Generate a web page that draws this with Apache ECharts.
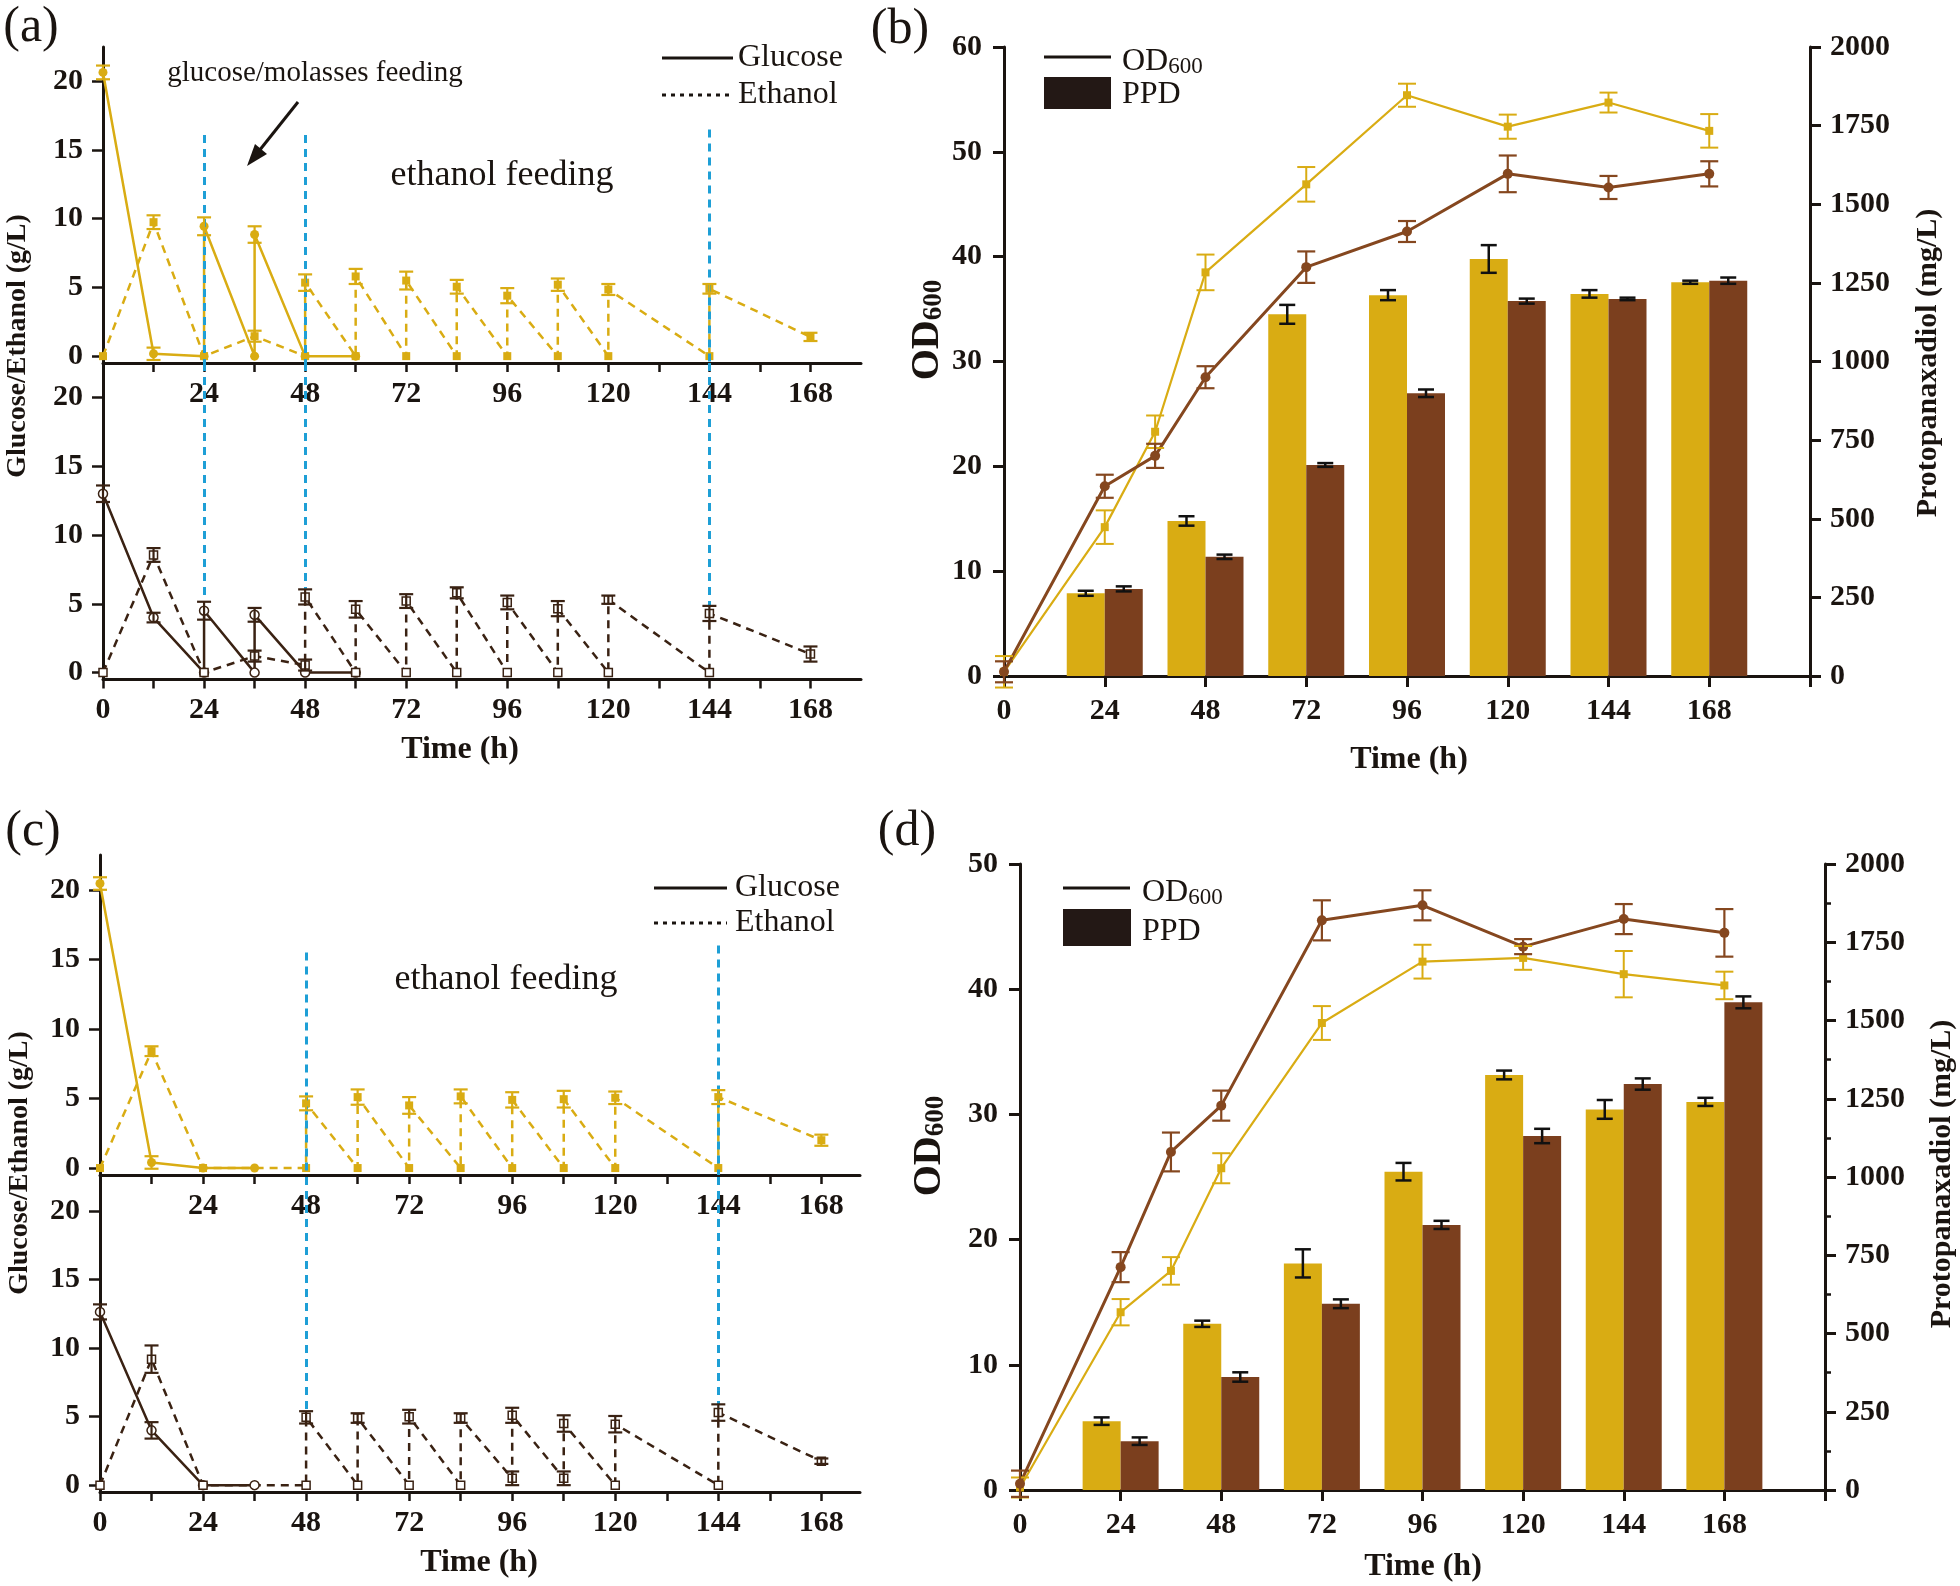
<!DOCTYPE html>
<html>
<head>
<meta charset="utf-8">
<script src="https://cdn.jsdelivr.net/npm/echarts@6.0.0/dist/echarts.min.js"></script>
<style>
  html, body { margin: 0; padding: 0; background: #fff; }
  #chart { width: 1960px; height: 1586px; }
</style>
</head>
<body>
<div id="chart"></div>
<script>
// ---------- data ----------
// panels (a) and (c): time in h, concentration in g/L, errors as [t, mean, sd]
const hourTicks = [0, 12, 24, 36, 48, 60, 72, 84, 96, 108, 120, 132, 144, 156, 168]
const hourLabelsUpper = [24, 48, 72, 96, 120, 144, 168]
const hourLabelsLower = [0, 24, 48, 72, 96, 120, 144, 168]
const concTicks = [0, 5, 10, 15, 20]

const aGlucoseUp = [[0, 20.65], [12, 0.17], [24, 0], [24, 9.45], [36, 0], [36, 8.85], [48, 0], [60, 0]]
const aGlucoseUpErr = [[0, 20.65, 0.5], [12, 0.17, 0.45], [24, 9.45, 0.65], [36, 8.85, 0.6]]
const aEthanolUp = [[0, 0], [12, 9.75], [24, 0], [36, 1.45], [48, 0], [48, 5.35], [60, 0], [60, 5.8], [72, 0], [72, 5.5],
  [84, 0], [84, 5.05], [96, 0], [96, 4.4], [108, 0], [108, 5.2], [120, 0], [120, 4.85], [144, 0], [144, 4.9], [168, 1.4]]
const aEthanolUpErr = [[12, 9.75, 0.5], [36, 1.45, 0.4], [48, 5.35, 0.6], [60, 5.8, 0.55], [72, 5.5, 0.65], [84, 5.05, 0.5],
  [96, 4.4, 0.55], [108, 5.2, 0.45], [120, 4.85, 0.4], [144, 4.9, 0.35], [168, 1.4, 0.3]]

const aGlucoseLow = [[0, 13.0], [12, 4.0], [24, 0], [24, 4.5], [36, 0], [36, 4.2], [48, 0], [60, 0]]
const aGlucoseLowErr = [[0, 13.0, 0.6], [12, 4.0, 0.35], [24, 4.5, 0.65], [36, 4.2, 0.5]]
const aEthanolLow = [[0, 0], [12, 8.55], [24, 0], [36, 1.2], [48, 0.55], [48, 5.5], [60, 0], [60, 4.6], [72, 0], [72, 5.2],
  [84, 0], [84, 5.8], [96, 0], [96, 5.1], [108, 0], [108, 4.65], [120, 0], [120, 5.3], [144, 0], [144, 4.3], [168, 1.35]]
const aEthanolLowErr = [[12, 8.55, 0.5], [36, 1.2, 0.4], [48, 0.55, 0.4], [48, 5.5, 0.55], [60, 4.6, 0.6], [72, 5.2, 0.5],
  [84, 5.8, 0.4], [96, 5.1, 0.5], [108, 4.65, 0.55], [120, 5.3, 0.3], [144, 4.3, 0.55], [168, 1.35, 0.55]]

const cGlucoseUp = [[0, 20.45], [12, 0.4], [24, 0], [36, 0]]
const cGlucoseUpErr = [[0, 20.45, 0.45], [12, 0.4, 0.45]]
const cEthanolUp = [[0, 0], [12, 8.4], [24, 0], [48, 0], [48, 4.65], [60, 0], [60, 5.1], [72, 0], [72, 4.5], [84, 0], [84, 5.15],
  [96, 0], [96, 4.9], [108, 0], [108, 4.95], [120, 0], [120, 5.05], [144, 0], [144, 5.1], [168, 2.0]]
const cEthanolUpErr = [[12, 8.4, 0.35], [48, 4.65, 0.5], [60, 5.1, 0.55], [72, 4.5, 0.6], [84, 5.15, 0.5], [96, 4.9, 0.55],
  [108, 4.95, 0.6], [120, 5.05, 0.45], [144, 5.1, 0.5], [168, 2.0, 0.4]]

const cGlucoseLow = [[0, 12.65], [12, 4.0], [24, 0], [36, 0]]
const cGlucoseLowErr = [[0, 12.65, 0.55], [12, 4.0, 0.6]]
const cEthanolLow = [[0, 0], [12, 9.2], [24, 0], [48, 0], [48, 4.95], [60, 0], [60, 4.9], [72, 0], [72, 5.0], [84, 0], [84, 4.9],
  [96, 0.5], [96, 5.1], [108, 0.5], [108, 4.5], [120, 0], [120, 4.45], [144, 0], [144, 5.3], [168, 1.75]]
const cEthanolLowErr = [[12, 9.2, 1.0], [48, 4.95, 0.45], [60, 4.9, 0.35], [72, 5.0, 0.5], [84, 4.9, 0.35], [96, 0.5, 0.5],
  [96, 5.1, 0.55], [108, 0.5, 0.5], [108, 4.5, 0.6], [120, 4.45, 0.6], [144, 5.3, 0.6], [168, 1.75, 0.2]]

// feeding marks (blue dashed): time, where it starts in upper plot, where it ends in lower plot
const aFeedTimes = [24, 48, 144]
const aFeedUpper = [16.1, 16.1, 16.5]
const aFeedLower = [5.2, 6.1, 4.9]
const cFeedTimes = [48, 144]
const cFeedUpper = [15.5, 16.0]
const cFeedLower = [5.5, 5.9]

// panels (b) and (d)
const odTimes = [0, 24, 36, 48, 72, 96, 120, 144, 168]
const bOdYellow = [0.4, 14.2, 23.3, 38.5, 46.9, 55.4, 52.4, 54.7, 52.0]
const bOdYellowErr = [1.5, 1.6, 1.55, 1.7, 1.65, 1.1, 1.15, 0.95, 1.6]
const bOdBrown = [0.4, 18.1, 21.0, 28.5, 39.0, 42.4, 47.9, 46.6, 47.9]
const bOdBrownErr = [1.0, 1.1, 1.15, 1.05, 1.5, 1.0, 1.75, 1.1, 1.2]
const dOdYellow = [0.2, 14.2, 17.5, 25.7, 37.3, 42.2, 42.5, 41.2, 40.3]
const dOdYellowErr = [0.8, 1.05, 1.1, 1.2, 1.35, 1.35, 0.95, 1.85, 1.1]
const dOdBrown = [0.5, 17.8, 27.0, 30.7, 45.5, 46.7, 43.4, 45.6, 44.5]
const dOdBrownErr = [1.05, 1.2, 1.55, 1.2, 1.6, 1.2, 0.6, 1.2, 1.9]

const ppdTimes = [24, 48, 72, 96, 120, 144, 168]
const bPpdYellow = [263, 493, 1150, 1211, 1326, 1215, 1252]
const bPpdYellowErr = [8, 15, 30, 16, 44, 12, 5]
const bPpdBrown = [277, 379, 671, 899, 1192, 1199, 1257]
const bPpdBrownErr = [8, 7, 6, 12, 8, 4, 10]
const dPpdYellow = [220, 531, 724, 1017, 1326, 1216, 1240]
const dPpdYellowErr = [12, 10, 45, 28, 14, 30, 13]
const dPpdBrown = [156, 361, 595, 847, 1131, 1297, 1558]
const dPpdBrownErr = [12, 15, 14, 13, 23, 18, 19]
const odTimeLabels = [0, 24, 48, 72, 96, 120, 144, 168]

// ---------- styling ----------
const FONT = "'Liberation Serif', 'Times New Roman', serif"
const INK = '#1a1410'
const YEL = '#D9AC13'
const BROWN = '#7B3F1E'
const BROWN_LINE = '#85471F'
const DARK = '#3A2213'
const BLUE = '#1E9FD6'
const BAR_W = 38
const C_MIN = -0.5
const C_MAX = 22.5

const tickFont = { fontFamily: FONT, fontSize: 30, fontWeight: 'bold', color: INK, formatter: v => String(v) }

function zip (ts, vs) { return ts.map((t, i) => [t, vs[i]]) }
function zip3 (ts, vs, es) { return ts.map((t, i) => [t, vs[i], es[i]]) }

function errSeries (xi, yi, rows, color, capW, dx, lw) {
  return {
    type: 'custom',
    xAxisIndex: xi,
    yAxisIndex: yi,
    silent: true,
    z: 6,
    data: rows.map(r => [r[0], r[1] - r[2], r[1] + r[2]]),
    encode: { x: 0, y: [1, 2] },
    renderItem: function (params, api) {
      const lo = api.coord([api.value(0), api.value(1)])
      const hi = api.coord([api.value(0), api.value(2)])
      const x = lo[0] + dx
      const st = { stroke: color, lineWidth: lw }
      return {
        type: 'group',
        children: [
          { type: 'line', shape: { x1: x, y1: lo[1], x2: x, y2: hi[1] }, style: st },
          { type: 'line', shape: { x1: x - capW / 2, y1: lo[1], x2: x + capW / 2, y2: lo[1] }, style: st },
          { type: 'line', shape: { x1: x - capW / 2, y1: hi[1], x2: x + capW / 2, y2: hi[1] }, style: st }
        ]
      }
    }
  }
}

function concLine (xi, yi, data, color, dashed, symbol, open, marks) {
  const s = {
    type: 'line',
    xAxisIndex: xi,
    yAxisIndex: yi,
    data: data,
    symbol: symbol,
    symbolSize: symbol === 'circle' ? 9 : 8,
    showAllSymbol: true,
    z: 4,
    itemStyle: open ? { color: '#fff', borderColor: color, borderWidth: 1.5 } : { color: color },
    lineStyle: { color: color, width: 2.5, type: dashed ? [8, 6] : 'solid' }
  }
  if (marks) {
    s.markLine = {
      silent: true,
      symbol: ['none', 'none'],
      label: { show: false },
      lineStyle: { color: BLUE, width: 3, type: [8, 6] },
      data: marks
    }
  }
  return s
}

function hourAxis (g, max, labels) {
  return {
    gridIndex: g, type: 'value', min: 0, max: max,
    axisLine: { onZero: false, lineStyle: { color: INK, width: 3 } },
    axisTick: { customValues: hourTicks, length: 9, lineStyle: { color: INK, width: 2.5 } },
    axisLabel: Object.assign({ customValues: labels, margin: 16 }, tickFont),
    splitLine: { show: false }
  }
}

function concAxis (g) {
  return {
    gridIndex: g, type: 'value', min: C_MIN, max: C_MAX,
    axisLine: { show: true, onZero: false, lineStyle: { color: INK, width: 3 } },
    axisTick: { show: true, customValues: concTicks, length: 11, lineStyle: { color: INK, width: 2.5 } },
    axisLabel: Object.assign({ customValues: concTicks, margin: 20 }, tickFont),
    splitLine: { show: false }
  }
}

function odXAxis (g) {
  return {
    gridIndex: g, type: 'value', min: 0, max: 192, interval: 24,
    axisLine: { onZero: false, lineStyle: { color: INK, width: 3 } },
    axisTick: { length: 11, lineStyle: { color: INK, width: 3 } },
    axisLabel: Object.assign({ customValues: odTimeLabels, margin: 20 }, tickFont),
    splitLine: { show: false }
  }
}

function odYAxis (g, max) {
  return {
    gridIndex: g, type: 'value', min: 0, max: max, interval: 10, position: 'left',
    axisLine: { show: true, onZero: false, lineStyle: { color: INK, width: 3 } },
    axisTick: { show: true, length: 11, lineStyle: { color: INK, width: 3 } },
    axisLabel: Object.assign({ margin: 22 }, tickFont),
    splitLine: { show: false }
  }
}

function ppdAxis (g, minor) {
  return {
    gridIndex: g, type: 'value', min: 0, max: 2000, interval: 250, position: 'right',
    axisLine: { show: true, onZero: false, lineStyle: { color: INK, width: 3 } },
    axisTick: { show: true, length: 11, lineStyle: { color: INK, width: 3 } },
    minorTick: { show: minor, splitNumber: 2, length: 6, lineStyle: { color: INK, width: 2.5 } },
    axisLabel: Object.assign({ margin: 20 }, tickFont),
    splitLine: { show: false }
  }
}

function feedMarks (times, froms, tos) {
  return times.map((t, i) => [{ coord: [t, froms[i]] }, { coord: [t, tos[i]] }])
}

function odPanel (g, yAxisL, yAxisR, yellowOd, yellowOdErr, brownOd, brownOdErr, yPpd, yPpdErr, bPpd, bPpdErr) {
  return [
    {
      type: 'bar', xAxisIndex: g, yAxisIndex: yAxisR, data: zip(ppdTimes, yPpd),
      barWidth: BAR_W, barGap: '0%', itemStyle: { color: YEL }, z: 2
    },
    {
      type: 'bar', xAxisIndex: g, yAxisIndex: yAxisR, data: zip(ppdTimes, bPpd),
      barWidth: BAR_W, barGap: '0%', itemStyle: { color: BROWN }, z: 2
    },
    errSeries(g, yAxisR, zip3(ppdTimes, yPpd, yPpdErr), '#111', 16, -BAR_W / 2, 2.5),
    errSeries(g, yAxisR, zip3(ppdTimes, bPpd, bPpdErr), '#111', 16, BAR_W / 2, 2.5),
    {
      type: 'line', xAxisIndex: g, yAxisIndex: yAxisL, data: zip(odTimes, yellowOd),
      symbol: 'rect', symbolSize: 8, itemStyle: { color: YEL }, lineStyle: { color: YEL, width: 2.2 }, z: 4
    },
    {
      type: 'line', xAxisIndex: g, yAxisIndex: yAxisL, data: zip(odTimes, brownOd),
      symbol: 'circle', symbolSize: 10, itemStyle: { color: BROWN_LINE }, lineStyle: { color: BROWN_LINE, width: 3 }, z: 4
    },
    errSeries(g, yAxisL, zip3(odTimes, yellowOd, yellowOdErr), YEL, 18, 0, 2),
    errSeries(g, yAxisL, zip3(odTimes, brownOd, brownOdErr), BROWN_LINE, 18, 0, 2.2)
  ]
}

function concSet (xi, yi, glu, gluErr, eth, ethErr, color, open, marks) {
  return [
    concLine(xi, yi, glu, color, false, 'circle', open),
    concLine(xi, yi, eth, color, true, 'rect', open, marks),
    errSeries(xi, yi, gluErr, color, 14, 0, 2.2),
    errSeries(xi, yi, ethErr, color, 14, 0, 2.2)
  ]
}

// ---------- graphics: titles, legends, notes ----------
function txt (x, y, text, size, weight, rot, align) {
  return {
    type: 'text', x: x, y: y, rotation: rot || 0, silent: true,
    style: {
      text: text, fontFamily: FONT, fontSize: size, fontWeight: weight || 'normal', fill: INK,
      align: align || 'center', verticalAlign: 'middle',
      textAlign: align || 'center', textVerticalAlign: 'middle'
    }
  }
}

function odText (x, y, sizeA, sizeB, weight, rot, align) {
  return {
    type: 'text', x: x, y: y, rotation: rot || 0, silent: true,
    style: {
      text: '{a|OD}{b|600}', fill: INK,
      align: align, verticalAlign: 'middle', textAlign: align, textVerticalAlign: 'middle',
      rich: {
        a: { fontFamily: FONT, fontSize: sizeA, fontWeight: weight, fill: INK, lineHeight: sizeA, verticalAlign: 'top' },
        b: { fontFamily: FONT, fontSize: sizeB, fontWeight: weight, fill: INK, lineHeight: sizeB, verticalAlign: 'bottom', padding: [Math.round(sizeA * 0.6), 0, 0, 0] }
      }
    }
  }
}

function hline (x1, x2, y, dash) {
  return {
    type: 'line', silent: true, shape: { x1: x1, y1: y, x2: x2, y2: y },
    style: { stroke: INK, lineWidth: 3, lineDash: dash || null }
  }
}

const graphics = [
  txt(31, 28, '(a)', 50), txt(900, 30, '(b)', 50), txt(33, 832, '(c)', 50), txt(907, 832, '(d)', 50),
  txt(18, 346, 'Glucose/Ethanol (g/L)', 28, 'bold', Math.PI / 2),
  txt(20, 1163, 'Glucose/Ethanol (g/L)', 28, 'bold', Math.PI / 2),
  txt(460, 750, 'Time (h)', 32, 'bold'), txt(479, 1563, 'Time (h)', 32, 'bold'),
  txt(1409, 760, 'Time (h)', 32, 'bold'), txt(1423, 1567, 'Time (h)', 32, 'bold'),
  odText(928, 330, 40, 27, 'bold', Math.PI / 2, 'center'),
  odText(930, 1146, 40, 27, 'bold', Math.PI / 2, 'center'),
  txt(1928, 363, 'Protopanaxadiol (mg/L)', 30, 'bold', Math.PI / 2),
  txt(1942, 1174, 'Protopanaxadiol (mg/L)', 30, 'bold', Math.PI / 2),
  // legends (a), (c)
  hline(662, 733, 58), txt(738, 58, 'Glucose', 32, 'normal', 0, 'left'),
  hline(662, 733, 95, [4, 5]), txt(738, 95, 'Ethanol', 32, 'normal', 0, 'left'),
  hline(654, 727, 888), txt(735, 888, 'Glucose', 32, 'normal', 0, 'left'),
  hline(654, 727, 923, [4, 5]), txt(735, 923, 'Ethanol', 32, 'normal', 0, 'left'),
  // legends (b), (d)
  hline(1044, 1111, 57), odText(1122, 62, 32, 23, 'normal', 0, 'left'),
  { type: 'rect', silent: true, shape: { x: 1044, y: 77, width: 67, height: 32 }, style: { fill: '#231815' } },
  txt(1122, 95, 'PPD', 32, 'normal', 0, 'left'),
  hline(1063, 1130, 888), odText(1142, 893, 32, 23, 'normal', 0, 'left'),
  { type: 'rect', silent: true, shape: { x: 1063, y: 909, width: 68, height: 37 }, style: { fill: '#231815' } },
  txt(1142, 932, 'PPD', 32, 'normal', 0, 'left'),
  // notes
  txt(315, 73, 'glucose/molasses feeding', 29),
  txt(502, 176, 'ethanol feeding', 36),
  txt(506, 980, 'ethanol feeding', 36),
  { type: 'line', silent: true, shape: { x1: 298, y1: 102, x2: 255, y2: 156 }, style: { stroke: INK, lineWidth: 3 } },
  { type: 'polygon', silent: true, shape: { points: [[247, 166], [267, 154], [255, 144]] }, style: { fill: INK } }
]

// ---------- chart ----------
const myChart = echarts.init(document.getElementById('chart'), null, { renderer: 'canvas' })

const option = {
  backgroundColor: '#fff',
  animation: false,
  grid: [
    { left: 103, top: 47, width: 758, height: 316 },
    { left: 103, top: 363, width: 758, height: 316.5 },
    { left: 1004, top: 47, width: 806, height: 629 },
    { left: 100, top: 855, width: 760, height: 320 },
    { left: 100, top: 1177, width: 760, height: 315 },
    { left: 1020, top: 864, width: 805, height: 626 }
  ],
  xAxis: [
    hourAxis(0, 180, hourLabelsUpper),
    hourAxis(1, 180, hourLabelsLower),
    odXAxis(2),
    hourAxis(3, 177, hourLabelsUpper),
    hourAxis(4, 177, hourLabelsLower),
    odXAxis(5)
  ],
  yAxis: [
    concAxis(0), // 0
    concAxis(1), // 1
    odYAxis(2, 60), // 2
    ppdAxis(2, false), // 3
    concAxis(3), // 4
    concAxis(4), // 5
    odYAxis(5, 50), // 6
    ppdAxis(5, true) // 7
  ],
  series: [].concat(
    concSet(0, 0, aGlucoseUp, aGlucoseUpErr, aEthanolUp, aEthanolUpErr, YEL, false,
      feedMarks(aFeedTimes, aFeedUpper, aFeedTimes.map(() => C_MIN))),
    concSet(1, 1, aGlucoseLow, aGlucoseLowErr, aEthanolLow, aEthanolLowErr, DARK, true,
      feedMarks(aFeedTimes, aFeedTimes.map(() => C_MAX), aFeedLower)),
    concSet(3, 4, cGlucoseUp, cGlucoseUpErr, cEthanolUp, cEthanolUpErr, YEL, false,
      feedMarks(cFeedTimes, cFeedUpper, cFeedTimes.map(() => C_MIN))),
    concSet(4, 5, cGlucoseLow, cGlucoseLowErr, cEthanolLow, cEthanolLowErr, DARK, true,
      feedMarks(cFeedTimes, cFeedTimes.map(() => C_MAX), cFeedLower)),
    odPanel(2, 2, 3, bOdYellow, bOdYellowErr, bOdBrown, bOdBrownErr, bPpdYellow, bPpdYellowErr, bPpdBrown, bPpdBrownErr),
    odPanel(5, 6, 7, dOdYellow, dOdYellowErr, dOdBrown, dOdBrownErr, dPpdYellow, dPpdYellowErr, dPpdBrown, dPpdBrownErr)
  ),
  graphic: { elements: graphics }
}

myChart.setOption(option)
</script>
</body>
</html>
